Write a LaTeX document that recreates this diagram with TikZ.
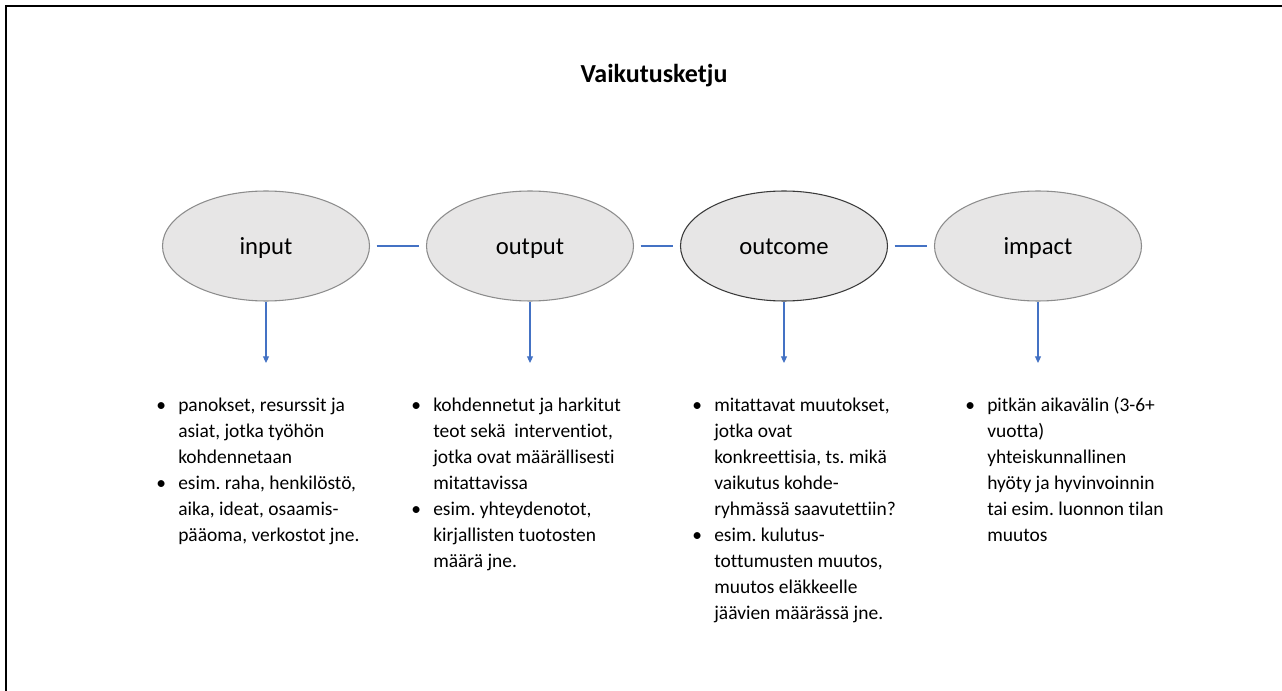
\documentclass[tikz,border=0pt]{standalone}
\usepackage{fontspec}
\setmainfont{Carlito}[Ligatures={NoCommon}]
\usetikzlibrary{shapes.geometric,arrows.meta}
\definecolor{ellfill}{HTML}{E7E6E6}
\definecolor{ellgray}{HTML}{8C8C8C}
\definecolor{elldark}{HTML}{3A3A3A}
\definecolor{linkblue}{HTML}{4472C4}
\newcommand{\bitem}{\makebox[16.5pt][l]{\textbullet}}
\frenchspacing
\begin{document}
\begin{tikzpicture}[x=0.75pt,y=-0.75pt,
  stage/.style={ellipse, fill=ellfill, draw=ellgray, line width=0.8pt, inner sep=0pt,
    minimum width=155.25pt, minimum height=82.5pt, text height=12.5pt, text depth=0pt,
    font=\fontsize{18.5pt}{21pt}\selectfont},
  link/.style={draw=linkblue, line width=0.8pt, shorten <=5pt, shorten >=5pt},
  down/.style={draw=linkblue, line width=0.8pt, -{Triangle[length=5pt,width=4.5pt]}},
  bodytext/.style={anchor=north west, inner sep=0pt, align=left,
    font=\fontsize{14.6pt}{19.5pt}\selectfont},
  titletext/.style={font=\fontsize{19.5pt}{23pt}\selectfont\bfseries}
]
\useasboundingbox (0,0) rectangle (1282,691);
\fill[white] (0,0) rectangle (1282,691);
\draw[line width=1.6pt] (6,691) -- (6,6) -- (1282,6);

\node[titletext] (title) at (654,76) {Vaikutusketju};

\node[stage] (input)   at (266,246) {input};
\node[stage] (output)  at (530,246) {output};
\node[stage, draw=elldark] (outcome) at (784,246) {outcome};
\node[stage] (impact)  at (1038,246) {impact};

\draw[link] (input.east) -- (output.west);
\draw[link] (output.east) -- (outcome.west);
\draw[link] (outcome.east) -- (impact.west);

\coordinate (a1) at (266,363);
\coordinate (a2) at (530,363);
\coordinate (a3) at (784,363);
\coordinate (a4) at (1038,363);
\draw[down] (input.south) -- (a1);
\draw[down] (output.south) -- (a2);
\draw[down] (outcome.south) -- (a3);
\draw[down] (impact.south) -- (a4);

\node[bodytext] (t1) at (156,393) {\begin{tabular}{@{}l@{}}
\bitem panokset, resurssit ja\\
\hspace{16.5pt}asiat, jotka työhön\\
\hspace{16.5pt}kohdennetaan\\
\bitem esim. raha, henkilöstö,\\
\hspace{16.5pt}aika, ideat, osaamis-\\
\hspace{16.5pt}pääoma, verkostot jne.
\end{tabular}};

\node[bodytext] (t2) at (411,393) {\begin{tabular}{@{}l@{}}
\bitem kohdennetut ja harkitut\\
\hspace{16.5pt}teot sekä\ \ interventiot,\\
\hspace{16.5pt}jotka ovat määrällisesti\\
\hspace{16.5pt}mitattavissa\\
\bitem esim. yhteydenotot,\\
\hspace{16.5pt}kirjallisten tuotosten\\
\hspace{16.5pt}määrä jne.
\end{tabular}};

\node[bodytext] (t3) at (692,393) {\begin{tabular}{@{}l@{}}
\bitem mitattavat muutokset,\\
\hspace{16.5pt}jotka ovat\\
\hspace{16.5pt}konkreettisia, ts. mikä\\
\hspace{16.5pt}vaikutus kohde-\\
\hspace{16.5pt}ryhmässä saavutettiin?\\
\bitem esim. kulutus-\\
\hspace{16.5pt}tottumusten muutos,\\
\hspace{16.5pt}muutos eläkkeelle\\
\hspace{16.5pt}jäävien määrässä jne.
\end{tabular}};

\node[bodytext] (t4) at (965,393) {\begin{tabular}{@{}l@{}}
\bitem pitkän aikavälin (3-6+\\
\hspace{16.5pt}vuotta)\\
\hspace{16.5pt}yhteiskunnallinen\\
\hspace{16.5pt}hyöty ja hyvinvoinnin\\
\hspace{16.5pt}tai esim. luonnon tilan\\
\hspace{16.5pt}muutos
\end{tabular}};
\end{tikzpicture}
\end{document}
